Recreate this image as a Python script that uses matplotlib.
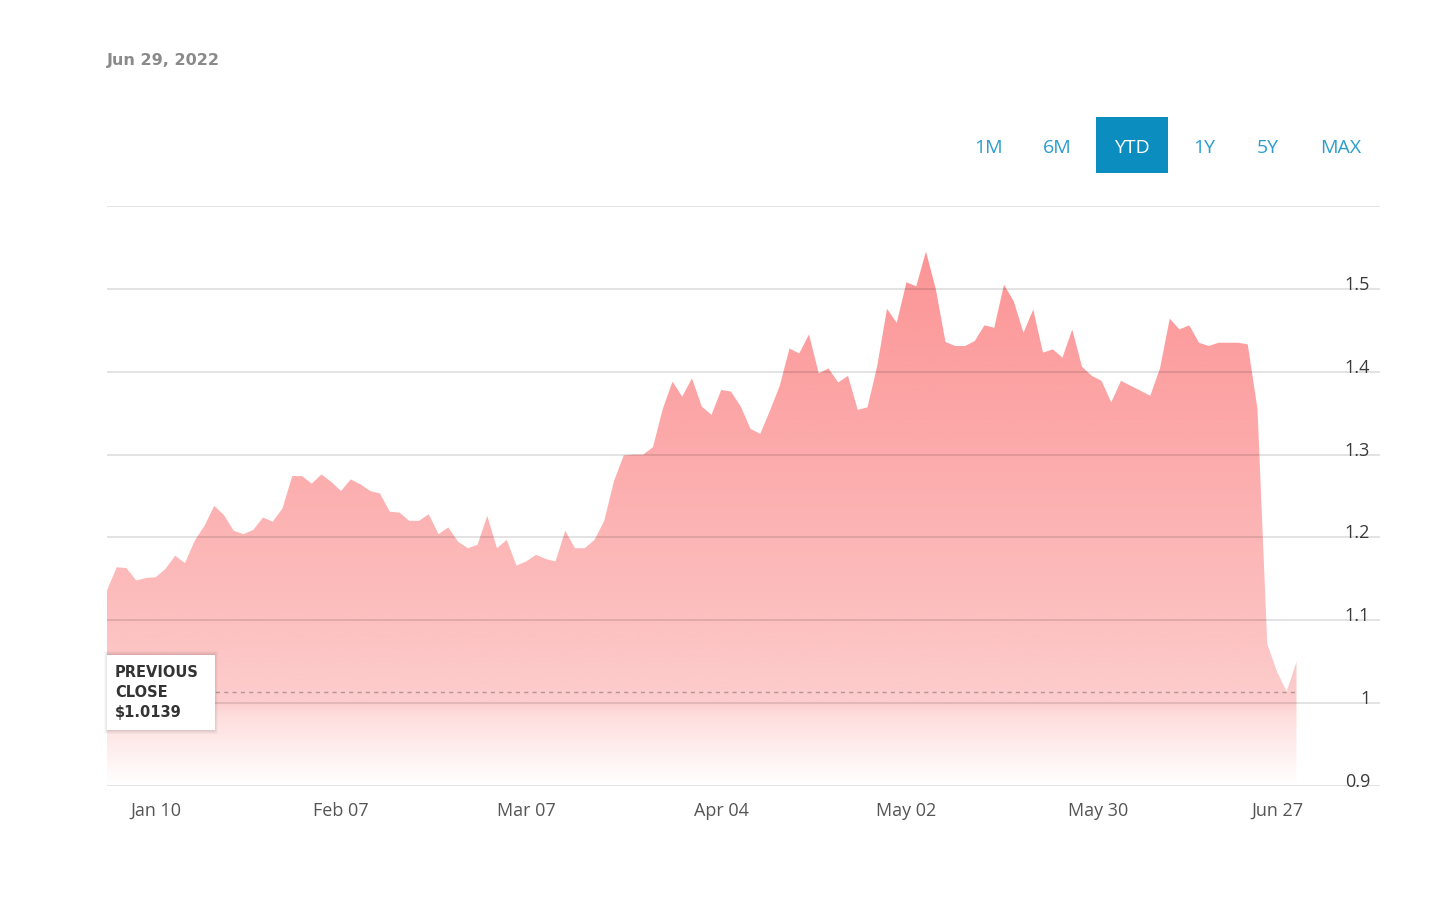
import numpy as np
import pandas as pd
import matplotlib
matplotlib.use("Agg")
import matplotlib.pyplot as plt
from matplotlib.colors import LinearSegmentedColormap
from matplotlib.patches import Rectangle

# ---------------- data ----------------
holidays = ["2022-01-17", "2022-02-21", "2022-04-15", "2022-05-30", "2022-06-20"]
dates = pd.bdate_range("2022-01-03", "2022-06-29")
dates = dates[~dates.isin(pd.to_datetime(holidays))]

prices = [
    1.136, 1.164, 1.163, 1.148, 1.151, 1.152, 1.162, 1.178, 1.169, 1.196,
    1.214, 1.238, 1.227, 1.208, 1.204, 1.209, 1.224, 1.219, 1.235, 1.274,
    1.274, 1.265, 1.276, 1.267, 1.256, 1.270, 1.264, 1.256, 1.253, 1.231,
    1.230, 1.220, 1.220, 1.228, 1.204, 1.212, 1.195, 1.187, 1.191, 1.226,
    1.187, 1.197, 1.166, 1.171, 1.179, 1.174, 1.171, 1.208, 1.187, 1.187,
    1.197, 1.220, 1.268, 1.299, 1.300, 1.300, 1.309, 1.355, 1.388, 1.370,
    1.392, 1.358, 1.348, 1.378, 1.376, 1.358, 1.331, 1.325, 1.353, 1.383,
    1.428, 1.422, 1.445, 1.398, 1.404, 1.387, 1.395, 1.354, 1.357, 1.407,
    1.476, 1.459, 1.508, 1.503, 1.545, 1.500, 1.436, 1.431, 1.431, 1.437,
    1.456, 1.453, 1.505, 1.485, 1.447, 1.475, 1.423, 1.427, 1.417, 1.451,
    1.406, 1.395, 1.389, 1.363, 1.389, 1.383, 1.377, 1.371, 1.404, 1.464,
    1.451, 1.456, 1.435, 1.431, 1.435, 1.435, 1.435, 1.433, 1.355, 1.0715,
    1.038, 1.0139, 1.050,
]
dates = dates[:len(prices)]

previous_close = 1.0139
y_ticks = [0.9, 1.0, 1.1, 1.2, 1.3, 1.4, 1.5, 1.6]
y_tick_labels = ["0.9", "1", "1.1", "1.2", "1.3", "1.4", "1.5", ""]
x_tick_dates = ["2022-01-10", "2022-02-07", "2022-03-07", "2022-04-04",
                "2022-05-02", "2022-05-30", "2022-06-27"]
x_tick_labels = ["Jan 10", "Feb 07", "Mar 07", "Apr 04", "May 02", "May 30", "Jun 27"]
range_buttons = ["1M", "6M", "YTD", "1Y", "5Y", "MAX"]
active_button = "YTD"
header_date = "Jun 29, 2022"

# ---------------- figure ----------------
W, H = 1440, 904
FONT = ["Open Sans", "DejaVu Sans"]
plt.rcParams["font.family"] = FONT
fig = plt.figure(figsize=(W / 100, H / 100), dpi=100)
fig.patch.set_facecolor("white")


def fx(px):
    return px / W


def fy(py):
    return 1 - py / H


ax = fig.add_axes([fx(107), fy(787), fx(1380) - fx(107), fy(207) - fy(787)])
x = np.arange(len(prices))
px_per_day = 9.75
x_right = (1380 - 107) / px_per_day

# gradient area
fill = ax.fill_between(x, prices, 0.9, facecolor="none", edgecolor="none")
cmap = LinearSegmentedColormap.from_list(
    "g", [(0.0, "#ffffff"), (0.04, "#fff4f4"), (0.12, "#fedddd"),
          (0.143, "#fdcdcd"), (0.32, "#fdbdbd"), (0.6, "#fca9aa"),
          (0.93, "#fc9495"), (1.0, "#fc9193")])
grad = np.linspace(1, 0, 700).reshape(-1, 1)
im = ax.imshow(grad, cmap=cmap, extent=[0, x[-1], 0.9, 1.6], aspect="auto",
               origin="upper", zorder=2, interpolation="bilinear")
im.set_clip_path(fill.get_paths()[0], transform=ax.transData)

# previous close dashed line
ax.plot([0, x[-1]], [previous_close, previous_close], color="#b39597",
        lw=1.0, dashes=(3, 3), zorder=4)

ax.set_xlim(0, x_right)
ax.set_ylim(0.9, 1.6)

# grid (drawn over the area, semi-transparent like the original)
ax.set_yticks(y_ticks)
ax.set_axisbelow(False)
ax.grid(axis="y", color="black", alpha=0.12, lw=1.3, zorder=3)
for s in ax.spines.values():
    s.set_visible(False)

ax.yaxis.tick_right()
ax.set_yticklabels(y_tick_labels)
ax.tick_params(axis="y", length=0, pad=-7, labelsize=13, labelcolor="#3a3a3a")
for lbl in ax.get_yticklabels():
    lbl.set_horizontalalignment("right")
    lbl.set_verticalalignment("baseline")

date_index = {d.strftime("%Y-%m-%d"): i for i, d in enumerate(dates)}
xt = []
for d in x_tick_dates:
    if d in date_index:
        xt.append(date_index[d])
    else:
        dd = pd.Timestamp(d)
        before = max(i for i, v in enumerate(dates) if v < dd)
        xt.append(before + 0.7)
ax.set_xticks(xt)
ax.set_xticklabels(x_tick_labels)
ax.tick_params(axis="x", length=0, pad=11, labelsize=13, labelcolor="#555555")

# previous close box with shadow
for k, a in enumerate([0.025, 0.03, 0.035, 0.045]):
    off = 4 - k
    fig.patches.append(Rectangle((fx(107 - off + 1), fy(731 + off)),
                                 fx(108 + 2 * off - 2), fy(656) - fy(731) + 2 * off / H,
                                 transform=fig.transFigure, facecolor="black",
                                 edgecolor="none", alpha=a, zorder=5))
box = Rectangle((fx(107), fy(731)), fx(108), fy(656) - fy(731),
                transform=fig.transFigure, facecolor="white", edgecolor="none", zorder=6)
fig.patches.append(box)
fig.text(fx(115), fy(665), "PREVIOUS\nCLOSE\n$%.4f" % previous_close,
         ha="left", va="top", fontsize=10.5, fontweight="semibold", color="#333333",
         linespacing=1.4, family=["DejaVu Sans"], zorder=7)

# header date
fig.text(fx(107), fy(60), header_date, ha="left", va="center", fontsize=11.5,
         fontweight="semibold", color="#8a8a8a", family=["DejaVu Sans"])

# range buttons
btn_centers = [988, 1057, 1132, 1204, 1268, 1341]
for lbl, cx in zip(range_buttons, btn_centers):
    if lbl == active_button:
        fig.patches.append(Rectangle((fx(1096), fy(174)), fx(72), fy(118) - fy(174),
                                     transform=fig.transFigure, facecolor="#0b8dc0",
                                     edgecolor="none"))
        fig.text(fx(cx), fy(148), lbl, ha="center", va="center", fontsize=14,
                 color="white")
    else:
        fig.text(fx(cx), fy(148), lbl, ha="center", va="center", fontsize=14,
                 color="#2a9dcf")

fig.savefig("out.png", dpi=100, facecolor="white")
